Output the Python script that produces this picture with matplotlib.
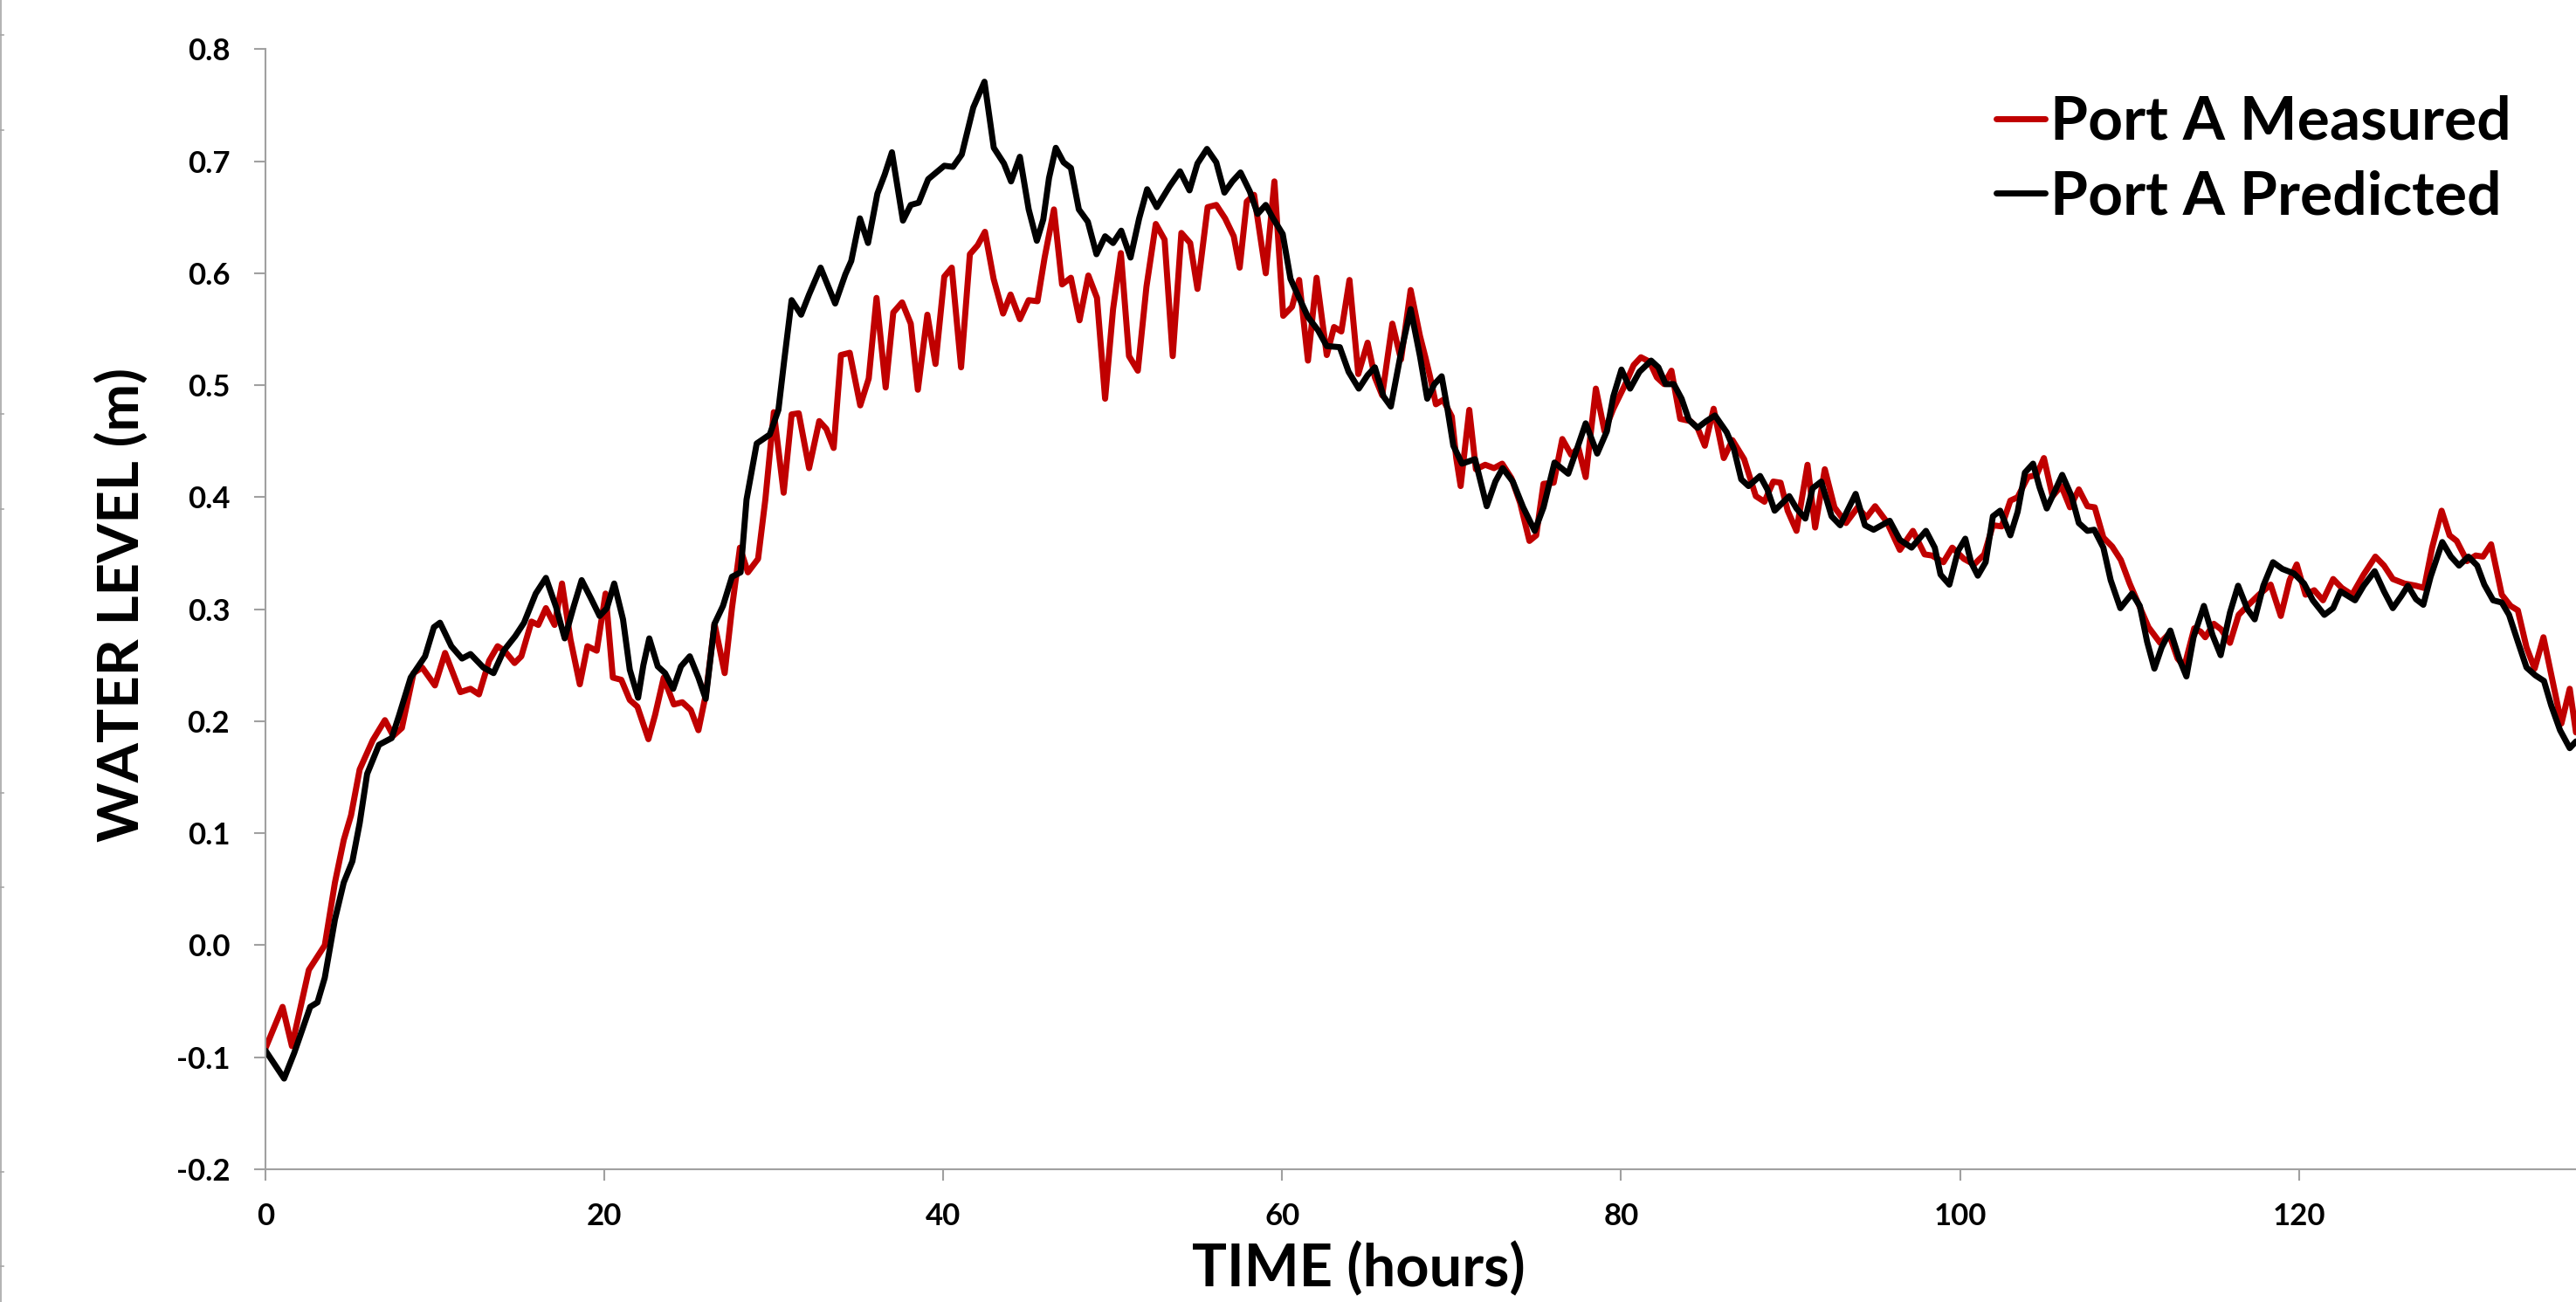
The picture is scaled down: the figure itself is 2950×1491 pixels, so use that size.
import matplotlib
matplotlib.use("Agg")
import matplotlib.pyplot as plt
from matplotlib.lines import Line2D
from matplotlib.ticker import FormatStrFormatter

plt.rcParams['font.family'] = ['Lato', 'DejaVu Sans']
plt.rcParams['font.weight'] = 'bold'
plt.rcParams['axes.unicode_minus'] = False

# ---- data ----
meas_hours = [0.0, 1.01, 1.56, 2.56, 3.5, 4.1, 4.62, 5.05, 5.56, 6.33, 7.05, 7.54, 8.05, 8.74,
              9.25, 10.0, 10.6, 11.5, 12.1, 12.6, 13.2, 13.7, 14.1, 14.7, 15.1, 15.7, 16.1,
              16.55, 17.06, 17.5, 18.0, 18.55, 19.0, 19.55, 20.07, 20.5, 21.0, 21.5, 21.95,
              22.6, 23.0, 23.5, 24.1, 24.6, 25.1, 25.55, 26.0, 26.5, 27.1, 27.53, 28.0, 28.47,
              29.07, 29.5, 30.0, 30.58, 31.05, 31.47, 32.08, 32.68, 33.1, 33.53, 33.96, 34.48,
              35.1, 35.6, 36.06, 36.6, 37.05, 37.57, 38.08, 38.5, 39.06, 39.54, 40.06, 40.5,
              41.05, 41.57, 42.03, 42.46, 42.97, 43.53, 43.97, 44.52, 45.04, 45.56, 45.98,
              46.53, 47.01, 47.53, 48.04, 48.56, 49.07, 49.55, 50.02, 50.48, 50.96, 51.48,
              51.99, 52.54, 53.06, 53.54, 54.05, 54.57, 55.0, 55.6, 56.11, 56.63, 57.14, 57.49,
              57.91, 58.34, 59.03, 59.54, 60.06, 60.58, 61.0, 61.52, 62.03, 62.63, 63.06,
              63.49, 63.97, 64.49, 65.04, 65.47, 65.9, 66.5, 67.01, 67.58, 68.13, 68.45, 68.72,
              69.07, 69.5, 70.01, 70.27, 70.53, 71.04, 71.43, 71.98, 72.5, 72.98, 73.53, 74.04,
              74.59, 74.99, 75.42, 76.02, 76.53, 77.05, 77.48, 77.91, 78.51, 79.02, 79.54,
              80.22, 80.74, 81.17, 81.68, 82.11, 82.54, 82.97, 83.49, 84.09, 84.51, 84.94,
              85.46, 86.06, 86.57, 87.26, 87.95, 88.46, 88.98, 89.41, 89.83, 90.35, 91.0,
              91.45, 92.02, 92.59, 93.27, 93.96, 94.48, 94.99, 95.68, 96.45, 97.22, 97.91,
              98.34, 99.02, 99.54, 100.23, 100.83, 101.43, 101.94, 102.46, 102.97, 103.4,
              104.0, 104.52, 104.95, 105.46, 105.98, 106.49, 107.01, 107.52, 107.95, 108.46,
              108.98, 109.49, 110.01, 110.52, 111.12, 111.81, 112.33, 112.84, 113.24, 113.82,
              114.2, 114.47, 114.98, 115.41, 115.93, 116.44, 116.96, 117.64, 118.33, 118.93,
              119.45, 119.87, 120.39, 120.9, 121.42, 122.02, 122.53, 123.14, 123.82, 124.51,
              125.02, 125.54, 126.22, 126.91, 127.39, 127.86, 128.42, 128.89, 129.31, 129.92,
              130.43, 130.86, 131.34, 131.97, 132.49, 132.92, 133.43, 133.91, 134.43, 134.98,
              135.49, 135.98, 136.35]
meas_level = [-0.092, -0.055, -0.090, -0.022, 0.0, 0.056, 0.094, 0.116, 0.157, 0.183, 0.201,
              0.187, 0.194, 0.243, 0.248, 0.232, 0.261, 0.226, 0.229, 0.224, 0.254, 0.267,
              0.263, 0.252, 0.258, 0.289, 0.286, 0.301, 0.286, 0.323, 0.273, 0.233, 0.267,
              0.263, 0.314, 0.239, 0.237, 0.219, 0.213, 0.184, 0.206, 0.239, 0.215, 0.217,
              0.210, 0.192, 0.225, 0.287, 0.243, 0.301, 0.355, 0.333, 0.345, 0.398, 0.476,
              0.404, 0.474, 0.475, 0.426, 0.468, 0.461, 0.444, 0.527, 0.529, 0.482, 0.506,
              0.578, 0.498, 0.565, 0.574, 0.555, 0.496, 0.563, 0.519, 0.597, 0.605, 0.516,
              0.617, 0.625, 0.637, 0.595, 0.564, 0.581, 0.559, 0.576, 0.575, 0.614, 0.657,
              0.590, 0.596, 0.558, 0.598, 0.578, 0.488, 0.568, 0.618, 0.526, 0.513, 0.588,
              0.644, 0.630, 0.526, 0.636, 0.627, 0.586, 0.659, 0.661, 0.649, 0.633, 0.605,
              0.664, 0.670, 0.600, 0.682, 0.562, 0.570, 0.594, 0.522, 0.596, 0.527, 0.552,
              0.548, 0.594, 0.510, 0.538, 0.507, 0.491, 0.555, 0.523, 0.585, 0.544, 0.525,
              0.508, 0.483, 0.487, 0.472, 0.435, 0.410, 0.478, 0.425, 0.429, 0.426, 0.430,
              0.417, 0.395, 0.361, 0.366, 0.412, 0.413, 0.452, 0.438, 0.444, 0.418, 0.497,
              0.459, 0.479, 0.500, 0.518, 0.525, 0.521, 0.507, 0.501, 0.513, 0.470, 0.468,
              0.462, 0.446, 0.479, 0.435, 0.451, 0.434, 0.401, 0.396, 0.414, 0.413, 0.388,
              0.370, 0.429, 0.373, 0.425, 0.391, 0.377, 0.391, 0.382, 0.392, 0.378, 0.353,
              0.370, 0.349, 0.348, 0.342, 0.355, 0.345, 0.340, 0.349, 0.375, 0.374, 0.397,
              0.400, 0.418, 0.420, 0.435, 0.401, 0.410, 0.391, 0.407, 0.392, 0.391, 0.364,
              0.356, 0.344, 0.323, 0.305, 0.284, 0.270, 0.278, 0.256, 0.249, 0.283, 0.280,
              0.275, 0.287, 0.282, 0.270, 0.295, 0.303, 0.313, 0.322, 0.294, 0.326, 0.340,
              0.313, 0.317, 0.308, 0.327, 0.319, 0.313, 0.331, 0.347, 0.339, 0.327, 0.323,
              0.321, 0.319, 0.355, 0.388, 0.366, 0.361, 0.343, 0.348, 0.347, 0.358, 0.313,
              0.303, 0.299, 0.266, 0.247, 0.275, 0.235, 0.198, 0.229, 0.190]

pred_hours = [0.0, 1.1, 1.7, 2.64, 3.07, 3.5, 4.1, 4.62, 5.13, 5.56, 6.0, 6.7, 7.45, 7.88, 8.57,
              9.42, 9.94, 10.3, 10.97, 11.6, 12.1, 12.86, 13.46, 14.06, 14.74, 15.26, 15.95,
              16.55, 17.15, 17.66, 18.18, 18.66, 19.2, 19.72, 20.15, 20.58, 21.1, 21.5, 21.99,
              22.3, 22.65, 23.15, 23.58, 24.06, 24.52, 25.04, 25.55, 25.98, 26.5, 27.0, 27.53,
              28.04, 28.39, 28.99, 29.76, 30.27, 30.62, 31.05, 31.61, 32.08, 32.76, 33.62,
              34.22, 34.57, 35.08, 35.56, 36.11, 36.54, 36.97, 37.62, 38.08, 38.55, 39.11,
              40.06, 40.57, 41.09, 41.77, 42.43, 42.98, 43.58, 44.0, 44.52, 45.04, 45.52, 45.9,
              46.24, 46.64, 47.1, 47.53, 48.0, 48.53, 49.04, 49.55, 50.02, 50.5, 51.05, 51.56,
              52.03, 52.6, 53.37, 53.97, 54.53, 55.0, 55.56, 56.11, 56.59, 57.06, 57.54, 58.09,
              58.55, 59.03, 59.46, 60.03, 60.49, 61.0, 61.52, 62.12, 62.63, 63.4, 63.92, 64.52,
              65.04, 65.47, 65.98, 66.41, 67.01, 67.58, 68.13, 68.56, 68.98, 69.41, 69.75,
              70.1, 70.61, 71.38, 72.07, 72.58, 73.01, 73.61, 74.22, 74.9, 75.42, 76.07, 76.88,
              77.39, 77.91, 78.59, 79.16, 79.54, 80.02, 80.53, 81.08, 81.77, 82.2, 82.63,
              83.11, 83.57, 84.0, 84.51, 85.03, 85.54, 86.23, 86.66, 87.09, 87.52, 88.2, 88.63,
              89.06, 89.92, 90.35, 90.87, 91.3, 91.81, 92.42, 92.93, 93.84, 94.39, 94.9, 95.85,
              96.45, 97.14, 97.99, 98.51, 98.85, 99.37, 99.88, 100.31, 100.65, 101.05, 101.51,
              101.94, 102.37, 102.97, 103.4, 103.83, 104.31, 104.69, 105.12, 105.55, 106.03,
              106.58, 107.01, 107.52, 107.92, 108.46, 108.89, 109.46, 110.15, 110.61, 111.04,
              111.47, 111.9, 112.41, 112.93, 113.36, 113.78, 114.39, 114.9, 115.38, 115.93,
              116.41, 116.96, 117.39, 117.9, 118.47, 119.02, 119.7, 120.3, 120.82, 121.5,
              122.02, 122.45, 123.31, 123.82, 124.47, 125.02, 125.54, 126.05, 126.43, 126.91,
              127.34, 127.77, 128.46, 128.97, 129.45, 130.0, 130.52, 130.94, 131.46, 131.97,
              132.4, 132.92, 133.43, 133.95, 134.46, 134.89, 135.41, 135.98, 136.35]
pred_level = [-0.094, -0.119, -0.096, -0.055, -0.051, -0.029, 0.023, 0.056, 0.075, 0.109, 0.153,
              0.179, 0.185, 0.205, 0.239, 0.258, 0.284, 0.288, 0.267, 0.256, 0.260, 0.248,
              0.243, 0.263, 0.276, 0.288, 0.314, 0.328, 0.302, 0.274, 0.302, 0.326, 0.310,
              0.294, 0.301, 0.323, 0.291, 0.246, 0.221, 0.250, 0.274, 0.249, 0.243, 0.229,
              0.249, 0.258, 0.239, 0.220, 0.287, 0.303, 0.329, 0.333, 0.398, 0.448, 0.456,
              0.478, 0.523, 0.576, 0.563, 0.581, 0.605, 0.573, 0.599, 0.611, 0.649, 0.627,
              0.671, 0.688, 0.708, 0.647, 0.661, 0.663, 0.684, 0.696, 0.695, 0.706, 0.748,
              0.771, 0.712, 0.698, 0.682, 0.704, 0.657, 0.629, 0.648, 0.685, 0.712, 0.699,
              0.694, 0.657, 0.646, 0.617, 0.633, 0.627, 0.638, 0.614, 0.649, 0.675, 0.659,
              0.678, 0.691, 0.674, 0.698, 0.711, 0.699, 0.672, 0.682, 0.690, 0.673, 0.653,
              0.661, 0.649, 0.635, 0.595, 0.578, 0.561, 0.549, 0.535, 0.534, 0.512, 0.497,
              0.509, 0.516, 0.490, 0.481, 0.529, 0.568, 0.526, 0.488, 0.501, 0.508, 0.479,
              0.446, 0.430, 0.434, 0.392, 0.414, 0.426, 0.414, 0.391, 0.370, 0.391, 0.431,
              0.421, 0.443, 0.466, 0.439, 0.459, 0.490, 0.514, 0.497, 0.512, 0.522, 0.516,
              0.501, 0.501, 0.488, 0.469, 0.462, 0.468, 0.473, 0.458, 0.443, 0.416, 0.410,
              0.419, 0.407, 0.388, 0.401, 0.390, 0.381, 0.408, 0.414, 0.383, 0.375, 0.403,
              0.375, 0.371, 0.379, 0.362, 0.355, 0.370, 0.355, 0.331, 0.322, 0.352, 0.363,
              0.342, 0.330, 0.342, 0.383, 0.388, 0.366, 0.387, 0.422, 0.430, 0.409, 0.390,
              0.404, 0.420, 0.401, 0.377, 0.370, 0.371, 0.355, 0.326, 0.301, 0.314, 0.303,
              0.271, 0.247, 0.266, 0.281, 0.256, 0.240, 0.275, 0.303, 0.277, 0.259, 0.297,
              0.321, 0.300, 0.291, 0.321, 0.342, 0.336, 0.332, 0.323, 0.308, 0.295, 0.301,
              0.316, 0.308, 0.321, 0.334, 0.316, 0.301, 0.312, 0.321, 0.309, 0.304, 0.329,
              0.360, 0.347, 0.339, 0.347, 0.339, 0.322, 0.308, 0.306, 0.295, 0.271, 0.248,
              0.241, 0.236, 0.214, 0.192, 0.176, 0.182]

series_names = ['Port A Measured', 'Port A Predicted']
series_colors = ['#C00000', '#000000']
x_ticks = [0, 20, 40, 60, 80, 100, 120]
y_ticks = [-0.2, -0.1, 0.0, 0.1, 0.2, 0.3, 0.4, 0.5, 0.6, 0.7, 0.8]

W, H = 2950, 1491
fig = plt.figure(figsize=(W / 100, H / 100), dpi=100)
ax = fig.add_axes([304 / W, 1 - 1339 / H, 1 - 304 / W, (1339 - 56.4) / H])

ax.plot(meas_hours, meas_level, color=series_colors[0], lw=5,
        solid_joinstyle='round', solid_capstyle='round', label=series_names[0])
ax.plot(pred_hours, pred_level, color=series_colors[1], lw=5,
        solid_joinstyle='round', solid_capstyle='round', label=series_names[1])

ax.set_xlim(0, 136.35)
ax.set_ylim(-0.2, 0.8)
ax.set_xticks(x_ticks)
ax.set_yticks(y_ticks)
ax.yaxis.set_major_formatter(FormatStrFormatter('%.1f'))

grey = '#A0A0A0'
for s in ('top', 'right'):
    ax.spines[s].set_visible(False)
for s in ('left', 'bottom'):
    ax.spines[s].set_color(grey)
    ax.spines[s].set_linewidth(1.5)
ax.tick_params(direction='out', length=9.4, width=1.5, color=grey, labelsize=25)
ax.tick_params(axis='y', pad=20)
ax.tick_params(axis='x', pad=18)
for lab in ax.get_xticklabels() + ax.get_yticklabels():
    lab.set_fontweight('bold')

fig.text(1556 / W, 1 - 1454 / H, 'TIME (hours)', fontsize=48, fontweight='bold',
         ha='center', va='center')
fig.text(139 / W, 1 - 692 / H, 'WATER LEVEL (m)', fontsize=47, fontweight='bold',
         ha='center', va='center', rotation=90)

leg = fig.legend(loc='upper left', bbox_to_anchor=(2286 / W, 1 - 109 / H), frameon=False,
                 fontsize=50, handlelength=0.8, handletextpad=0.1, labelspacing=0.32,
                 borderpad=0, borderaxespad=0)
for t in leg.get_texts():
    t.set_fontweight('bold')

# faint frame edge at the far left of the picture
fig.add_artist(Line2D([0.6 / W, 0.6 / W], [0, 1], transform=fig.transFigure,
                      color='#A6A6A6', lw=1.2))
for yy in (40, 149, 474, 583, 908, 1016, 1342, 1450):
    fig.add_artist(Line2D([0, 4 / W], [1 - yy / H, 1 - yy / H], transform=fig.transFigure,
                          color='#A6A6A6', lw=1.2))

fig.savefig('out.png', dpi=100, facecolor='white')
